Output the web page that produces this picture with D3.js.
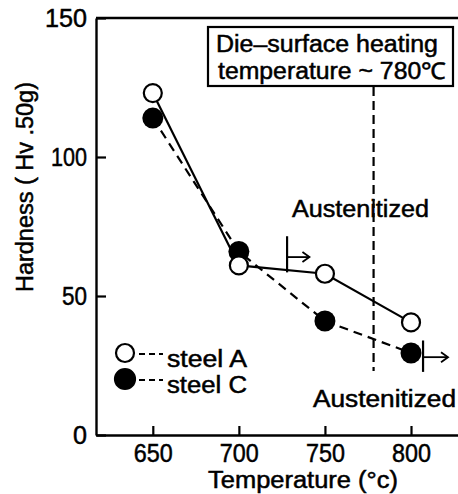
<!DOCTYPE html>
<html><head><meta charset="utf-8">
<script src="https://cdn.jsdelivr.net/npm/d3@7"></script>
<style>body{margin:0;background:#fff}svg{display:block}text{font-family:"Liberation Sans",Arial,sans-serif;fill:#000;stroke:#000;stroke-width:0.5px}</style>
</head><body><svg id="c" width="458" height="494"></svg>
<script>
const temps = [650, 700, 750, 800];
const steelA = [123, 61, 58, 40.5];
const steelC = [114, 66, 41, 29.5];
const xTicks = [650, 700, 750, 800];
const yTicks = [0, 50, 100, 150];
const seriesNames = ["steel A", "steel C"];
const heatTemp = 780;
const boxLines = ["Die\u2013surface heating", "temperature ~ 780\u2103"];
const austLabel = "Austenitized";

const svg = d3.select("#c");
const x = d3.scaleLinear().domain([617, 827.3]).range([96, 458]);
const y = d3.scaleLinear().domain([0, 150]).range([435, 18]);
const ink = "#000";

// axes
const gx = svg.append("g").attr("transform", "translate(0,435)")
  .call(d3.axisBottom(x).tickValues(xTicks).tickSize(-9).tickPadding(9).tickSizeOuter(0));
const gy = svg.append("g").attr("transform", "translate(96,0)")
  .call(d3.axisLeft(y).tickValues(yTicks).tickSize(-10).tickPadding(9).tickSizeOuter(0));
[gx, gy].forEach(g => {
  g.select(".domain").attr("stroke", ink).attr("stroke-width", 2.4);
  g.selectAll(".tick line").attr("stroke", ink).attr("stroke-width", 2.2);
  g.selectAll(".tick text").attr("font-size", 26).attr("fill", ink)
    .attr("font-family", "'Liberation Sans Narrow','Liberation Sans',Arial,sans-serif");
});
gx.selectAll(".tick text").attr("textLength", 39).attr("lengthAdjust", "spacingAndGlyphs");
gy.selectAll(".tick text").attr("textLength", d => d === 0 ? 14 : (d === 100 ? 36 : (d === 50 ? 25 : 42))).attr("lengthAdjust", "spacingAndGlyphs");
// top frame line
svg.append("line").attr("x1", 96).attr("x2", 458).attr("y1", y(150)).attr("y2", y(150))
  .attr("stroke", ink).attr("stroke-width", 2.4);

// axis labels
svg.append("text").attr("x", 303).attr("y", 488).attr("text-anchor", "middle")
  .attr("font-size", 23).attr("textLength", 190).attr("lengthAdjust", "spacingAndGlyphs")
  .text("Temperature (\u00b0c)");
svg.append("text").attr("transform", "translate(33,187) rotate(-90)").attr("text-anchor", "middle")
  .attr("font-size", 23).attr("textLength", 210).attr("lengthAdjust", "spacingAndGlyphs")
  .text("Hardness ( Hv .50g)");

// annotation box
svg.append("rect").attr("x", 208).attr("y", 27).attr("width", 245).attr("height", 59)
  .attr("fill", "#fff").attr("stroke", ink).attr("stroke-width", 2.2);
svg.append("text").attr("x", 216).attr("y", 52).attr("font-size", 23)
  .attr("textLength", 222).attr("lengthAdjust", "spacingAndGlyphs").text(boxLines[0]);
svg.append("text").attr("x", 218).attr("y", 79).attr("font-size", 23)
  .attr("textLength", 228).attr("lengthAdjust", "spacingAndGlyphs").text(boxLines[1]);

// vertical dashed line at heating temperature
svg.append("line").attr("x1", x(heatTemp) - 3).attr("x2", x(heatTemp) - 3).attr("y1", 87).attr("y2", y(23))
  .attr("stroke", ink).attr("stroke-width", 2.2).attr("stroke-dasharray", "9,5");

// Austenitized labels
svg.append("text").attr("x", 292).attr("y", 217).attr("font-size", 23)
  .attr("textLength", 137).attr("lengthAdjust", "spacingAndGlyphs").text(austLabel);
svg.append("text").attr("x", 313).attr("y", 407).attr("font-size", 23)
  .attr("textLength", 143).attr("lengthAdjust", "spacingAndGlyphs").text(austLabel);

// arrow markers
function marker(t, v0, v1, va, tEnd) {
  svg.append("line").attr("x1", x(t)).attr("x2", x(t)).attr("y1", y(v0)).attr("y2", y(v1))
    .attr("stroke", ink).attr("stroke-width", 2.2);
  svg.append("line").attr("x1", x(t)).attr("x2", x(tEnd)).attr("y1", y(va)).attr("y2", y(va))
    .attr("stroke", ink).attr("stroke-width", 1.8);
  const ex = x(tEnd), ey = y(va);
  svg.append("path").attr("d", `M${ex-7},${ey-5}L${ex},${ey}L${ex-7},${ey+5}`)
    .attr("fill", "none").attr("stroke", ink).attr("stroke-width", 1.8);
}
marker(728, 71.5, 58.5, 64, 741);
marker(807, 34, 22.7, 28, 821.5);

// lines
const line = d3.line().x((d, i) => x(temps[i])).y(d => y(d));
svg.append("path").datum(steelA).attr("d", line).attr("fill", "none")
  .attr("stroke", ink).attr("stroke-width", 2.2);
svg.append("path").datum(steelC).attr("d", line).attr("fill", "none")
  .attr("stroke", ink).attr("stroke-width", 2.2).attr("stroke-dasharray", "9,6");

// points
svg.selectAll("circle.c").data(steelC).join("circle").attr("class", "c")
  .attr("cx", (d, i) => x(temps[i])).attr("cy", d => y(d)).attr("r", 10.5).attr("fill", ink);
svg.selectAll("circle.a").data(steelA).join("circle").attr("class", "a")
  .attr("cx", (d, i) => x(temps[i])).attr("cy", d => y(d)).attr("r", 9)
  .attr("fill", "#fff").attr("stroke", ink).attr("stroke-width", 2.2);

// legend
const leg = [{y: 353, filled: false}, {y: 379, filled: true}];
leg.forEach((l, i) => {
  svg.append("circle").attr("cx", 125).attr("cy", l.y).attr("r", l.filled ? 10 : 9)
    .attr("fill", l.filled ? ink : "#fff").attr("stroke", ink).attr("stroke-width", 2.2);
  svg.append("line").attr("x1", 139).attr("x2", 163).attr("y1", l.y + 1).attr("y2", l.y + 1)
    .attr("stroke", ink).attr("stroke-width", 2).attr("stroke-dasharray", "6,4");
  svg.append("text").attr("x", 167).attr("y", l.y + 14).attr("font-size", 23)
    .attr("textLength", 80).attr("lengthAdjust", "spacingAndGlyphs").text(seriesNames[i]);
});
</script></body></html>
